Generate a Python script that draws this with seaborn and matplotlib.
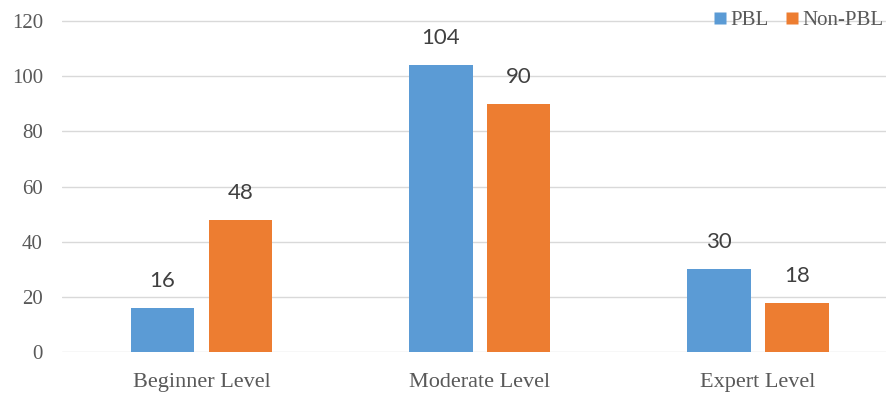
import matplotlib
matplotlib.use("Agg")
import matplotlib.pyplot as plt
from matplotlib.lines import Line2D
import seaborn as sns
import pandas as pd

categories = ["Beginner Level", "Moderate Level", "Expert Level"]
series_names = ["PBL", "Non-PBL"]
pbl_values = [16, 104, 30]
non_pbl_values = [48, 90, 18]
y_ticks = [0, 20, 40, 60, 80, 100, 120]
colors = ["#5B9BD5", "#ED7D31"]

df = pd.DataFrame({
    "Level": categories * 2,
    "Group": [series_names[0]] * 3 + [series_names[1]] * 3,
    "Value": pbl_values + non_pbl_values,
})

sns.set_style("white")
serif = ["Liberation Serif", "DejaVu Serif"]
sans = ["Lato", "Liberation Sans", "DejaVu Sans"]

W, H, DPI = 887, 394, 100
fig = plt.figure(figsize=(W / DPI, H / DPI), dpi=DPI)
ymax = 125
px_per_unit = 2.763
ax_left, ax_w = 62.3, 835.0
ax_bottom_px = 352.3
ax_h = ymax * px_per_unit
ax = fig.add_axes([ax_left / W, (H - ax_bottom_px) / H, ax_w / W, ax_h / H])

sns.barplot(data=df, x="Level", y="Value", hue="Group", palette=colors,
            width=0.56, gap=0.186, ax=ax, legend=False, saturation=1,
            errorbar=None, linewidth=0)

ax.set_xlim(-0.5, 2.5)
ax.set_ylim(0, ymax)
ax.set_yticks(y_ticks)
ax.set_xlabel("")
ax.set_ylabel("")
for s in ax.spines.values():
    s.set_visible(False)
ax.yaxis.grid(True, color="#D9D9D9", linewidth=1.0)
ax.set_axisbelow(True)
ax.tick_params(axis="both", length=0)
ax.tick_params(axis="y", pad=14)
ax.tick_params(axis="x", pad=15)
for lbl in ax.get_yticklabels():
    lbl.set_family(serif); lbl.set_fontsize(15); lbl.set_color("#595959")
for lbl in ax.get_xticklabels():
    lbl.set_family(serif); lbl.set_fontsize(16); lbl.set_color("#595959")

for container in ax.containers:
    for bar in container:
        h = bar.get_height()
        ax.annotate(f"{h:.0f}", (bar.get_x() + bar.get_width() / 2, h),
                    xytext=(0, 19.4), textcoords="offset points",
                    ha="center", va="center", fontsize=16,
                    family=sans, color="#404040", annotation_clip=False)

handles = [Line2D([], [], linestyle="none", marker="s", markersize=8,
                  markerfacecolor=c, markeredgecolor="none") for c in colors]
fig.legend(handles, series_names, loc="center right",
           bbox_to_anchor=(884 / W, 1 - 20 / H), ncol=2, frameon=False,
           prop={"family": serif, "size": 15}, handlelength=0.5,
           handletextpad=0.25, columnspacing=0.9,
           borderaxespad=0, borderpad=0, labelcolor="#595959")

fig.savefig("out.png", dpi=DPI)
